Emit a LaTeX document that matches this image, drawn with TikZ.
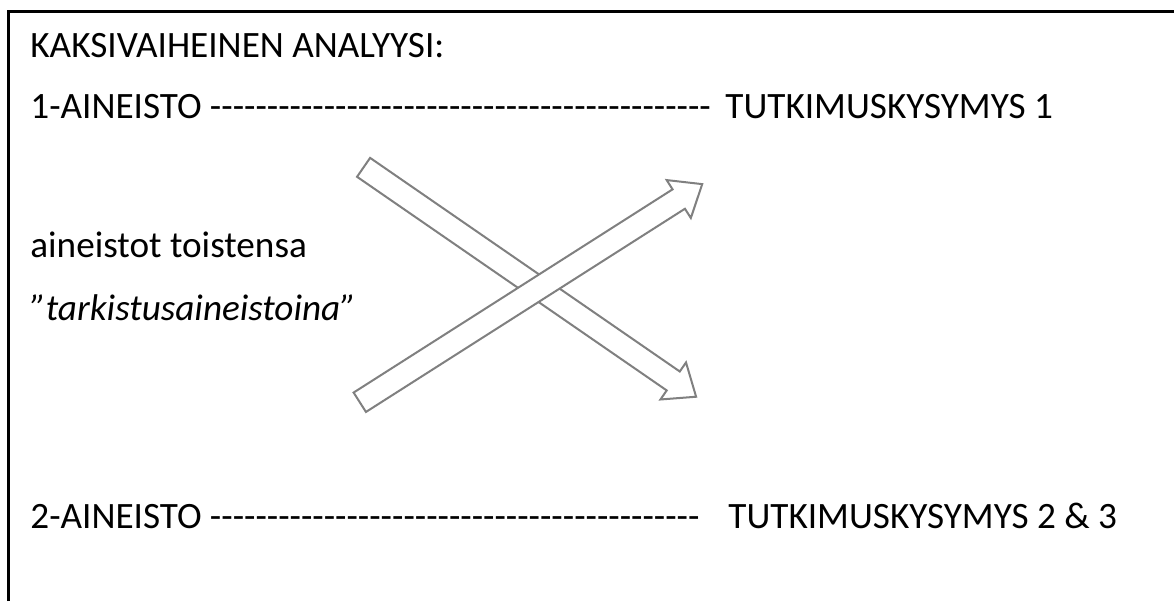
\documentclass[tikz,border=0pt]{standalone}
\usepackage{fontspec}
\setmainfont{Carlito}[Ligatures=TeXOff]
\usetikzlibrary{shapes.arrows}
\definecolor{arrowgrey}{RGB}{128,128,128}

\begin{document}
\begin{tikzpicture}[x=0.5pt,y=-0.5pt]
    \tikzstyle{txt} = [anchor=base west, inner sep=0pt,
        font=\fontsize{18.6}{22}\selectfont]
    \tikzstyle{blockarrow} = [single arrow, draw=arrowgrey, fill=white,
        line width=1pt, inner xsep=0pt, inner ysep=5.25pt,
        single arrow head extend=5.5pt, single arrow tip angle=78]

    \useasboundingbox (0,0) rectangle (1174,601);
    \draw[line width=1.5pt] (8,601) -- (8,11) -- (1174,11);

    \node(title) [txt] at (30,57) {KAKSIVAIHEINEN ANALYYSI:};
    \node(aineisto1) [txt] at (30,118)
        {1-AINEISTO --------------------------------------------};
    \node(kysymys1) [txt] at (725,118) {TUTKIMUSKYSYMYS 1};
    \node(toistensa) [txt] at (30,257) {aineistot toistensa};
    \node(tarkistus) [txt] at (30,320) {\itshape ”tarkistusaineistoina”};
    \node(aineisto2) [txt] at (30,528)
        {2-AINEISTO -------------------------------------------};
    \node(kysymys23) [txt] at (728,528) {TUTKIMUSKYSYMYS 2 \& 3};

    \node(crossdown) [blockarrow, minimum height=202pt, rotate=-34.6]
        at (524,278) {};
    \node(crossup) [blockarrow, minimum height=203pt, rotate=32.5]
        at (525,297) {};
\end{tikzpicture}
\end{document}
